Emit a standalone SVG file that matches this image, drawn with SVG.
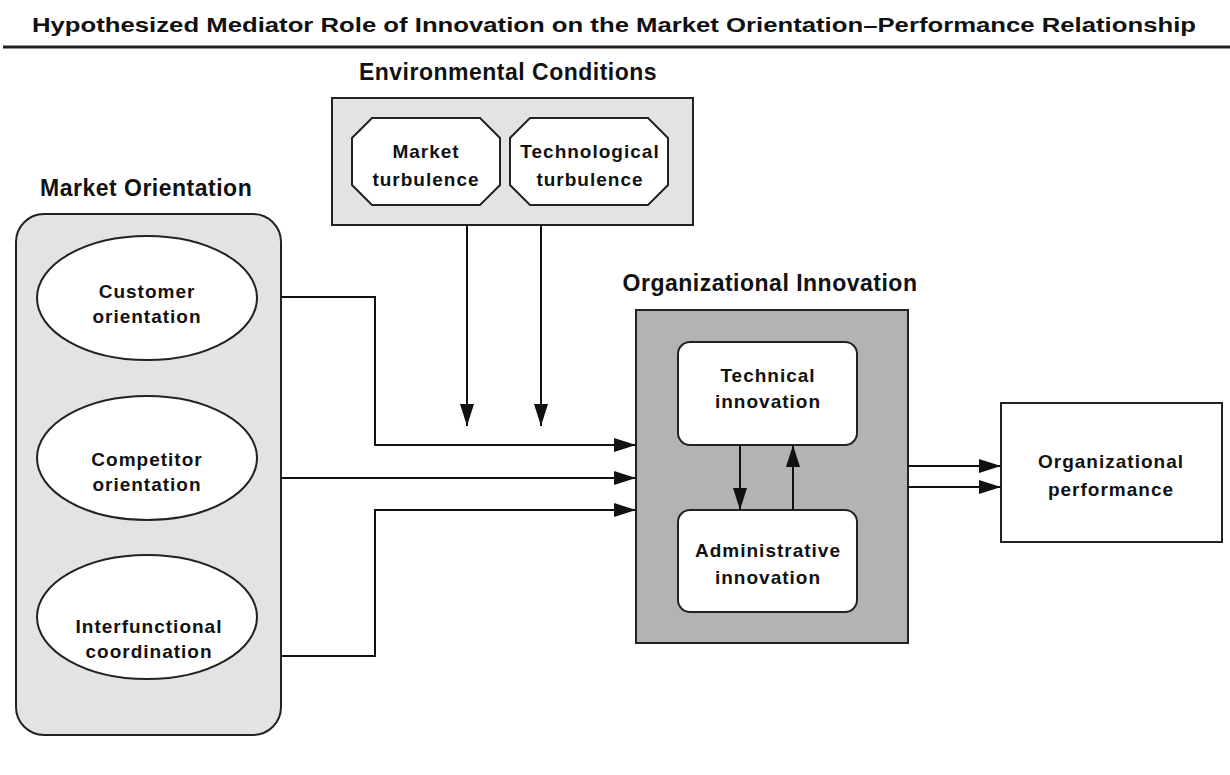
<svg xmlns="http://www.w3.org/2000/svg" width="1230" height="775" viewBox="0 0 1230 775">
<style>
text{font-family:"Liberation Sans",Arial,sans-serif;font-weight:bold;fill:#111;}
.head{font-size:23px;letter-spacing:0.5px;}
.lbl{font-size:19px;letter-spacing:1px;text-anchor:middle;}
.conn{fill:none;stroke:#111;stroke-width:2;}
.shape{stroke:#222;stroke-width:2;}
</style>
<defs>
<marker id="arr" viewBox="0 0 22 14" refX="22" refY="7" markerWidth="22" markerHeight="14" markerUnits="userSpaceOnUse" orient="auto">
<path d="M0,0 L22,7 L0,14 z" fill="#111"/>
</marker>
</defs>
<rect width="1230" height="775" fill="#fff"/>
<g id="title">
<text x="614" y="32" text-anchor="middle" style="font-size:21px" textLength="1164" lengthAdjust="spacingAndGlyphs">Hypothesized Mediator Role of Innovation on the Market Orientation–Performance Relationship</text>
<line x1="3" y1="47" x2="1230" y2="47" stroke="#222" stroke-width="3"/>
</g>
<g id="environmental-conditions">
<text class="head" x="508" y="80" text-anchor="middle">Environmental Conditions</text>
<rect class="shape" x="332" y="98" width="361" height="127" fill="#e3e3e3"/>
<g id="market-turbulence">
<polygon class="shape" fill="#fff" points="372,118 480,118 500,138 500,185 480,205 372,205 352,185 352,138"/>
<text class="lbl" x="426" y="158">Market</text>
<text class="lbl" x="426" y="186">turbulence</text>
</g>
<g id="technological-turbulence">
<polygon class="shape" fill="#fff" points="530,118 648,118 668,138 668,185 648,205 530,205 510,185 510,138"/>
<text class="lbl" x="590" y="158">Technological</text>
<text class="lbl" x="590" y="186">turbulence</text>
</g>
</g>
<g id="market-orientation">
<text class="head" x="40" y="196">Market Orientation</text>
<rect class="shape" x="16" y="214" width="265" height="521" rx="28" fill="#e3e3e3"/>
<g id="customer-orientation">
<ellipse class="shape" cx="147" cy="298" rx="110" ry="62" fill="#fff"/>
<text class="lbl" x="147" y="298">Customer</text>
<text class="lbl" x="147" y="323">orientation</text>
</g>
<g id="competitor-orientation">
<ellipse class="shape" cx="147" cy="458" rx="110" ry="62" fill="#fff"/>
<text class="lbl" x="147" y="466">Competitor</text>
<text class="lbl" x="147" y="491">orientation</text>
</g>
<g id="interfunctional-coordination">
<ellipse class="shape" cx="147" cy="617" rx="110" ry="62" fill="#fff"/>
<text class="lbl" x="149" y="633">Interfunctional</text>
<text class="lbl" x="149" y="658">coordination</text>
</g>
</g>
<g id="organizational-innovation">
<text class="head" x="770" y="291" text-anchor="middle">Organizational Innovation</text>
<rect class="shape" x="636" y="310" width="272" height="333" fill="#b3b3b3"/>
<g id="technical-innovation">
<rect class="shape" x="678" y="342" width="179" height="103" rx="12" fill="#fff"/>
<text class="lbl" x="768" y="382">Technical</text>
<text class="lbl" x="768" y="408">innovation</text>
</g>
<g id="administrative-innovation">
<rect class="shape" x="678" y="510" width="179" height="102" rx="12" fill="#fff"/>
<text class="lbl" x="768" y="557">Administrative</text>
<text class="lbl" x="768" y="584">innovation</text>
</g>
</g>
<g id="organizational-performance">
<rect class="shape" x="1001" y="403" width="221" height="139" fill="#fff"/>
<text class="lbl" x="1111" y="468">Organizational</text>
<text class="lbl" x="1111" y="496">performance</text>
</g>
<g id="connectors">
<path class="conn" d="M467,225 V426" marker-end="url(#arr)"/>
<path class="conn" d="M541,225 V426" marker-end="url(#arr)"/>
<path class="conn" d="M281,297 H375 V445 H636" marker-end="url(#arr)"/>
<path class="conn" d="M281,478 H636" marker-end="url(#arr)"/>
<path class="conn" d="M281,656 H375 V510 H636" marker-end="url(#arr)"/>
<path class="conn" d="M740,445 V510" marker-end="url(#arr)"/>
<path class="conn" d="M793,510 V445" marker-end="url(#arr)"/>
<path class="conn" d="M908,466 H1001" marker-end="url(#arr)"/>
<path class="conn" d="M908,487 H1001" marker-end="url(#arr)"/>
</g>
</svg>
